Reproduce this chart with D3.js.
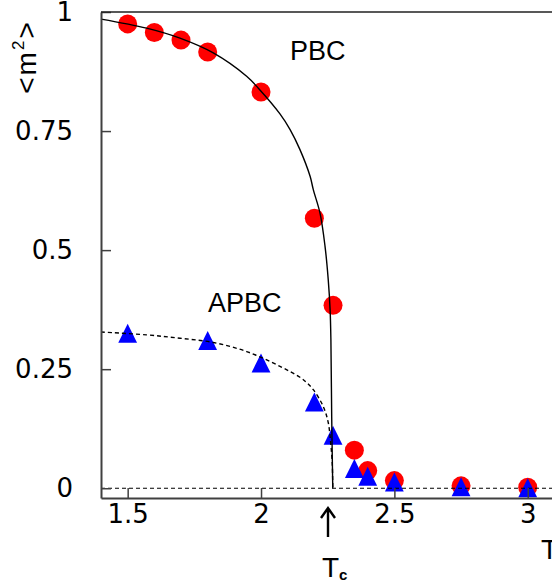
<!DOCTYPE html>
<html>
<head>
<meta charset="utf-8">
<script src="https://cdn.jsdelivr.net/npm/d3@7/dist/d3.min.js"></script>
<style>
  html, body { margin: 0; padding: 0; background: #fff; }
  svg { display: block; }
</style>
</head>
<body>
<svg id="chart"></svg>
<script>
// measured points (temperature T, order parameter <m^2>)
const tempPBC = [1.5, 1.6, 1.7, 1.8, 2.0, 2.2, 2.27, 2.35, 2.4, 2.5, 2.75, 3.0];
const m2PBC = [0.975, 0.957, 0.941, 0.916, 0.832, 0.567, 0.384, 0.080, 0.037, 0.016, 0.005, 0.002];

const tempAPBC = [1.5, 1.8, 2.0, 2.2, 2.27, 2.35, 2.4, 2.5, 2.75, 3.0];
const m2APBC = [0.325, 0.310, 0.263, 0.181, 0.111, 0.041, 0.025, 0.013, 0.003, 0.001];

// curves
const curveTempPBC = [1.4, 1.571, 1.696, 1.821, 1.946, 1.99, 2.071, 2.109, 2.146, 2.184, 2.196, 2.221, 2.24, 2.252, 2.259, 2.262, 2.265, 2.269];
const curveM2PBC = [0.985, 0.966, 0.945, 0.914, 0.865, 0.840, 0.786, 0.753, 0.711, 0.655, 0.627, 0.578, 0.508, 0.438, 0.375, 0.312, 0.15, 0];

const curveTempAPBC = [1.4, 1.571, 1.696, 1.821, 1.946, 2.071, 2.146, 2.171, 2.196, 2.233, 2.252, 2.261, 2.267, 2.269];
const curveM2APBC = [0.328, 0.322, 0.315, 0.306, 0.287, 0.256, 0.233, 0.222, 0.207, 0.172, 0.138, 0.096, 0.053, 0];

const xTicks = [1.5, 2, 2.5, 3];
const xTickLabels = ['1.5', '2', '2.5', '3'];
const yTicks = [0, 0.25, 0.5, 0.75, 1];
const yTickLabels = ['0', '0.25', '0.5', '0.75', '1'];

const width = 552, height = 586;
const plotLeft = 101, plotTop = 12, plotRight = 554.4, plotBottom = 498;

const svg = d3.select('#chart').attr('width', width).attr('height', height);

const x = d3.scaleLinear().domain([1.4, 3.1]).range([plotLeft, plotRight]);
const y = d3.scaleLinear().domain([-0.0205, 1]).range([plotBottom, plotTop]);

const zip = (a, b) => a.map((v, i) => [v, b[i]]);

// markers: circles first, triangles on top
svg.append('g')
  .selectAll('circle')
  .data(zip(tempPBC, m2PBC))
  .join('circle')
  .attr('cx', d => x(d[0]))
  .attr('cy', d => y(d[1]))
  .attr('r', 9.5)
  .attr('fill', '#ff0000');

const tri = 'M0,-9.6L9.4,9.4L-9.4,9.4Z';
svg.append('g')
  .selectAll('path')
  .data(zip(tempAPBC, m2APBC))
  .join('path')
  .attr('transform', d => `translate(${x(d[0])},${y(d[1])})`)
  .attr('d', tri)
  .attr('fill', '#0000ff');

// lines over the markers
const line = d3.line()
  .x(d => x(d[0]))
  .y(d => y(d[1]))
  .curve(d3.curveCatmullRom.alpha(0.5));

svg.append('path')
  .datum(zip(curveTempPBC, curveM2PBC))
  .attr('fill', 'none')
  .attr('stroke', '#000')
  .attr('stroke-width', 1.4)
  .attr('d', line);

svg.append('path')
  .datum(zip(curveTempAPBC, curveM2APBC))
  .attr('fill', 'none')
  .attr('stroke', '#000')
  .attr('stroke-width', 1.4)
  .attr('stroke-dasharray', '4,3')
  .attr('d', line);

svg.append('path')
  .datum([[1.4, 0], [3.1, 0]])
  .attr('fill', 'none')
  .attr('stroke', '#000')
  .attr('stroke-width', 1.2)
  .attr('stroke-dasharray', '4,3')
  .attr('d', d3.line().x(d => x(d[0])).y(d => y(d[1])));

// axes
const xAxis = d3.axisBottom(x)
  .tickValues(xTicks)
  .tickFormat((d, i) => xTickLabels[i])
  .tickSizeInner(-10)
  .tickSizeOuter(0)
  .tickPadding(7);

const yAxis = d3.axisLeft(y)
  .tickValues(yTicks)
  .tickFormat((d, i) => yTickLabels[i])
  .tickSizeInner(-10)
  .tickSizeOuter(0)
  .tickPadding(28);

const gx = svg.append('g').attr('transform', `translate(0,${plotBottom})`).call(xAxis);
const gy = svg.append('g').attr('transform', `translate(${plotLeft},0)`).call(yAxis);

[gx, gy].forEach(g => {
  g.select('.domain').attr('stroke', '#404040').attr('stroke-width', 2);
  g.selectAll('.tick line').attr('stroke', '#404040').attr('stroke-width', 1.5);
  g.selectAll('.tick text')
    .attr('fill', '#000')
    .style('font-family', '"DejaVu Sans", sans-serif')
    .style('font-size', '26px');
});

// top border
svg.append('line')
  .attr('x1', plotLeft).attr('x2', plotRight)
  .attr('y1', plotTop).attr('y2', plotTop)
  .attr('stroke', '#202020')
  .attr('stroke-width', 1.5);

// labels
const labelFont = '"Liberation Sans", Arial, sans-serif';

svg.append('text')
  .attr('x', 290).attr('y', 60)
  .style('font-family', labelFont).style('font-size', '27px')
  .text('PBC');

svg.append('text')
  .attr('x', 208).attr('y', 312)
  .style('font-family', labelFont).style('font-size', '27px')
  .text('APBC');

const ylab = svg.append('text')
  .attr('transform', 'translate(36,57) rotate(-90)')
  .attr('text-anchor', 'middle')
  .style('font-family', labelFont).style('font-size', '28px')
  .style('letter-spacing', '2px');
ylab.append('tspan').text('<m');
ylab.append('tspan').attr('dy', -12).style('font-size', '17px').text('2');
ylab.append('tspan').attr('dy', 12).text('>');

svg.append('text')
  .attr('x', 541).attr('y', 559)
  .style('font-family', labelFont).style('font-size', '28px')
  .text('T');

// T_c arrow
svg.append('path')
  .attr('d', 'M328,537V509M321,518L328,508L335,518')
  .attr('fill', 'none')
  .attr('stroke', '#000')
  .attr('stroke-width', 2.4);

const tc = svg.append('text')
  .attr('x', 322).attr('y', 577)
  .style('font-family', labelFont).style('font-size', '28px');
tc.append('tspan').text('T');
tc.append('tspan').attr('dy', 3).style('font-size', '15px').style('font-weight', 'bold').text('c');
</script>
</body>
</html>
